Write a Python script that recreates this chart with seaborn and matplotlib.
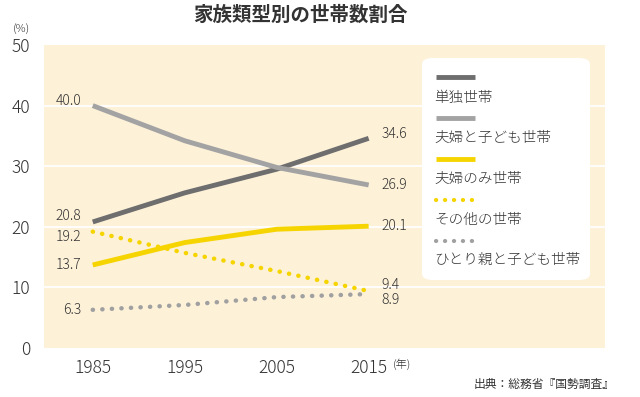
import matplotlib
matplotlib.use("Agg")
import matplotlib.pyplot as plt
from matplotlib.patches import FancyBboxPatch
import seaborn as sns

years = [1985, 1995, 2005, 2015]
single = [20.8, 25.6, 29.5, 34.6]
couple_kids = [40.0, 34.2, 29.8, 26.9]
couple_only = [13.7, 17.4, 19.6, 20.1]
other = [19.2, 15.7, 12.7, 9.4]
single_parent = [6.3, 7.1, 8.4, 8.9]

names = ["単独世帯", "夫婦と子ども世帯", "夫婦のみ世帯", "その他の世帯", "ひとり親と子ども世帯"]
series = [single, couple_kids, couple_only, other, single_parent]
colors = ["#6e6e6e", "#a3a3a3", "#f6d400", "#f6d400", "#a0a0a0"]
dotted = [False, False, False, True, True]
# label offsets (points) at the start / end of each line
left_dy = [4, 3, 0, -4, 0]
right_dy = [3, 0, 0, 4, -4]

sns.set_theme(style="white")
plt.rcParams["font.family"] = ["Noto Sans CJK JP", "DejaVu Sans"]
text_c = "#333333"
bg = "#fdf1d8"
thin = "light"

fig = plt.figure(figsize=(6.4, 3.97), dpi=100)
W, H = 640, 397
ax = fig.add_axes([44 / W, (H - 348) / H, (605 - 44) / W, (348 - 45) / H])
ax.set_facecolor(bg)

for vals, c, dot in zip(series, colors, dotted):
    if dot:
        sns.lineplot(x=years, y=vals, ax=ax, color=c, lw=3.2,
                     linestyle=(0, (0.05, 2.1)), dash_capstyle="round")
    else:
        sns.lineplot(x=years, y=vals, ax=ax, color=c, lw=3.5,
                     solid_capstyle="butt")

for vals, ly, ry in zip(series, left_dy, right_dy):
    ax.annotate(f"{vals[0]:.1f}", (years[0], vals[0]), xytext=(-8, ly),
                textcoords="offset points", ha="right", va="center",
                fontsize=10, color=text_c, fontweight=thin)
    ax.annotate(f"{vals[-1]:.1f}", (years[-1], vals[-1]), xytext=(9, ry),
                textcoords="offset points", ha="left", va="center",
                fontsize=10, color=text_c, fontweight=thin)

ax.set_xlim(1979.7, 2040.7)
ax.set_ylim(0, 50)
ax.set_yticks([0, 10, 20, 30, 40, 50])
ax.set_xticks(years)
ax.set_xticklabels([str(y) for y in years])
ax.tick_params(axis="both", length=0, labelsize=12.5, colors=text_c)
ax.tick_params(axis="y", pad=10)
ax.tick_params(axis="x", pad=8)
for lab in ax.get_xticklabels() + ax.get_yticklabels():
    lab.set_fontweight(thin)
for y in [10, 20, 30, 40]:
    ax.axhline(y, color="white", lw=1.3, zorder=0.5)
for s in ax.spines.values():
    s.set_visible(False)

# legend box: handle above each label
def px(x, y):
    return ((x - 44) / (605 - 44), (348 - y) / (348 - 45))

x0, y0 = px(422, 280)
x1, y1 = px(590, 58)
ax.add_patch(FancyBboxPatch((x0, y0), x1 - x0, y1 - y0, transform=ax.transAxes,
                            boxstyle="round,pad=0,rounding_size=0.02",
                            fc="white", ec="none", zorder=3))
handle_y = [77, 118, 159, 200, 241]
label_y = [98, 138, 179, 220, 260]
for name, c, dot, hy, ty in zip(names, colors, dotted, handle_y, label_y):
    a, b = px(436, hy)
    e, _ = px(475, hy)
    if dot:
        ax.plot([a, e], [b, b], transform=ax.transAxes, color=c, lw=3,
                linestyle=(0, (0.05, 2.1)), dash_capstyle="round", zorder=4)
    else:
        ax.plot([a, e], [b, b], transform=ax.transAxes, color=c, lw=3.5,
                solid_capstyle="butt", zorder=4)
    tx, tyy = px(434, ty)
    ax.text(tx, tyy, name, transform=ax.transAxes, ha="left", va="center",
            fontsize=10.5, color=text_c, zorder=4, fontweight=thin)

fig.text(300 / W, 1 - 15 / H, "家族類型別の世帯数割合", ha="center", va="center",
         fontsize=14, fontweight="bold", color=text_c)
fig.text(22 / W, 1 - 30 / H, "(%)", ha="center", va="center", fontsize=8,
         color=text_c, fontweight=thin)
fig.text(402 / W, 1 - 365 / H, "(年)", ha="center", va="center", fontsize=8,
         color=text_c, fontweight=thin)
fig.text(615 / W, 1 - 384 / H, "出典：総務省『国勢調査』", ha="right", va="center",
         fontsize=8.5, color=text_c)

fig.savefig("out.png", dpi=100)
